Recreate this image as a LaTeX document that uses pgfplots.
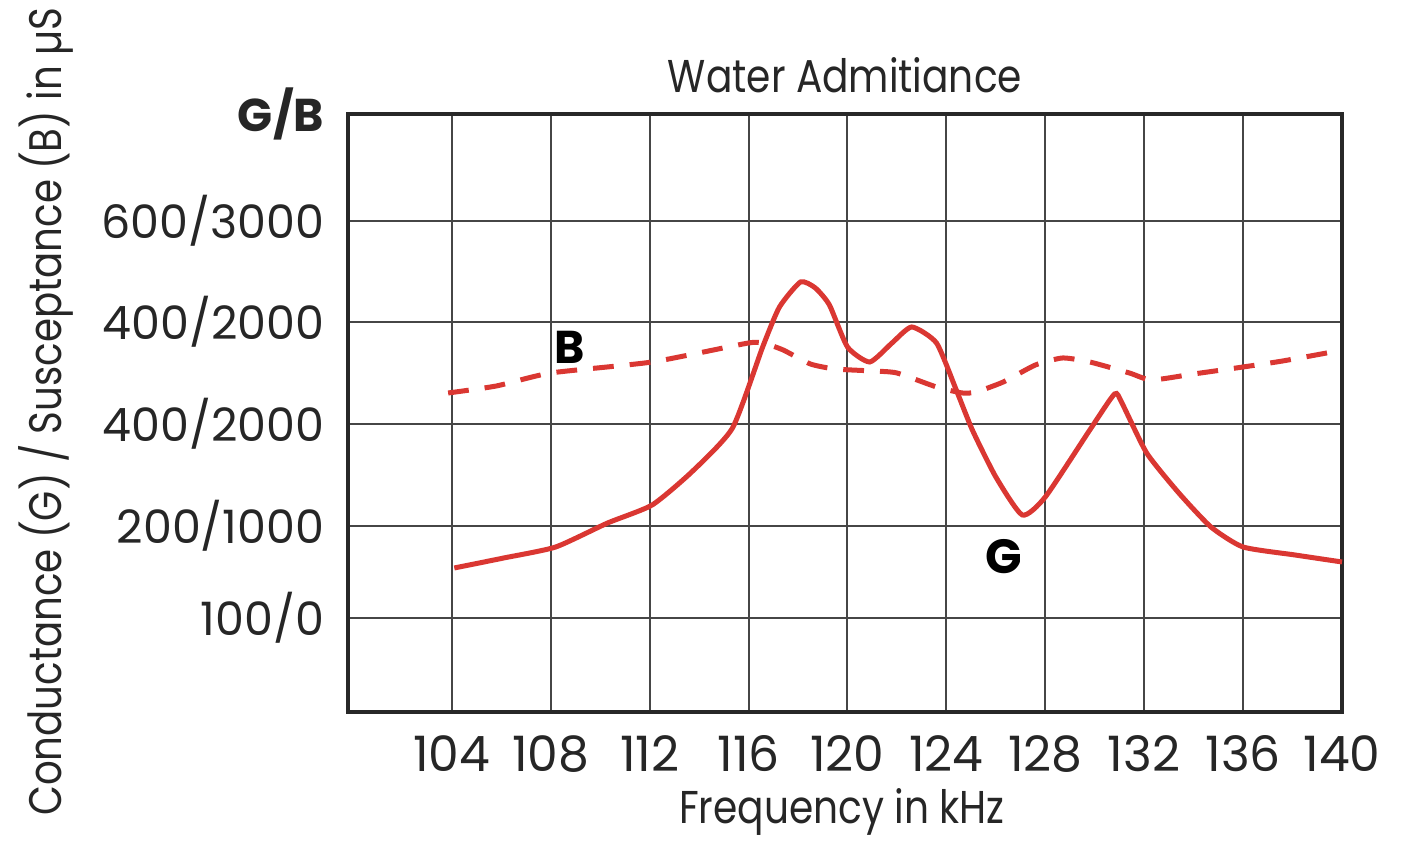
\documentclass[border=0pt]{standalone}
\usepackage{fontspec}
\setmainfont{Poppins}
\newfontfamily\labelfont[FakeStretch=0.85]{Poppins}
\usepackage{pgfplots}
\pgfplotsset{compat=1.18}
\definecolor{curvered}{RGB}{218,55,50}
\definecolor{gridgray}{RGB}{70,70,70}
\definecolor{framegray}{RGB}{40,40,40}
\begin{document}
\begin{tikzpicture}
\begin{axis}[
  scale only axis,
  width=248.5pt, height=149.5pt,
  xmin=99.8, xmax=140, ymin=0, ymax=598,
  xtick={104,108,...,140},
  ytick={94,186,288,390,491,598},
  yticklabels={100/0,200/1000,400/2000,400/2000,600/3000,\raisebox{-1.5pt}{\textbf{G/B}}},
  grid=major,
  major grid style={line width=0.5pt, color=gridgray},
  axis line style={line width=1pt, color=framegray},
  major tick length=0pt,
  tick label style={text=black!85},
  yticklabel style={font=\fontsize{11.5}{12}\selectfont, inner sep=0pt, xshift=-5.75pt},
  xticklabel style={font=\fontsize{12.2}{12}\selectfont, inner sep=0pt, yshift=-5.75pt},
  /pgf/number format/assume math mode=true,
  /pgf/number format/1000 sep={},
  clip=false,
]
\addplot[curvered, line width=1.25pt, smooth, tension=0.35] coordinates {
(104.1,144) (106.1,154) (108.2,165) (110.3,189) (112.1,207) (113.7,240)
(115.35,284) (116.57,365) (117.25,405) (118.1,430) (118.7,424) (119.27,407)
(120.0,365) (120.9,350) (121.8,369) (122.6,385) (123.6,369) (124.4,322)
(125.05,282) (126.0,235) (127.07,197) (128.0,215) (129.8,282) (130.8,318)
(131.1,309) (132.1,259) (133.4,219) (134.7,185) (136.0,165) (138.1,157) (140,150)
};
\addplot[curvered, line width=1.25pt, dash pattern=on 5.2pt off 4pt, smooth, tension=0.35] coordinates {
(103.85,319) (105.8,326) (108,339) (112.1,350) (116.0,369) (116.7,368)
(117.4,362) (118.5,348) (119.5,343) (121.0,341) (122.0,339) (123.6,325)
(124.65,319) (125.2,320) (126.3,330) (127.6,347) (128.7,354) (129.8,350)
(131.4,339) (132.3,332) (134.0,338) (136.0,345) (137.6,351) (139.6,360)
};
\node[font=\fontsize{11.5}{12}\selectfont\bfseries] at (axis cs:108.77,365) {B};
\node[font=\fontsize{12}{12}\selectfont\bfseries] at (axis cs:126.34,155) {G};
\node[font=\labelfont\fontsize{11.5}{12}\selectfont, text=black!85] at ([yshift=9.75pt]rel axis cs:0.5,1) {Water Admitiance};
\node[font=\labelfont\fontsize{11.5}{12}\selectfont, text=black!85] at ([yshift=-25pt]rel axis cs:0.497,0) {Frequency in kHz};
\node[font=\labelfont\fontsize{11.4}{12}\selectfont, text=black!85, rotate=90] at ([xshift=-75.5pt]rel axis cs:0,0.502) {Conductance (G) / Susceptance (B) in µS};
\end{axis}
\pgfresetboundingbox
\path ([shift={(-87pt,-32.5pt)}]current axis.south west) rectangle ([shift={(15pt,28.5pt)}]current axis.north east);
\end{tikzpicture}
\end{document}
